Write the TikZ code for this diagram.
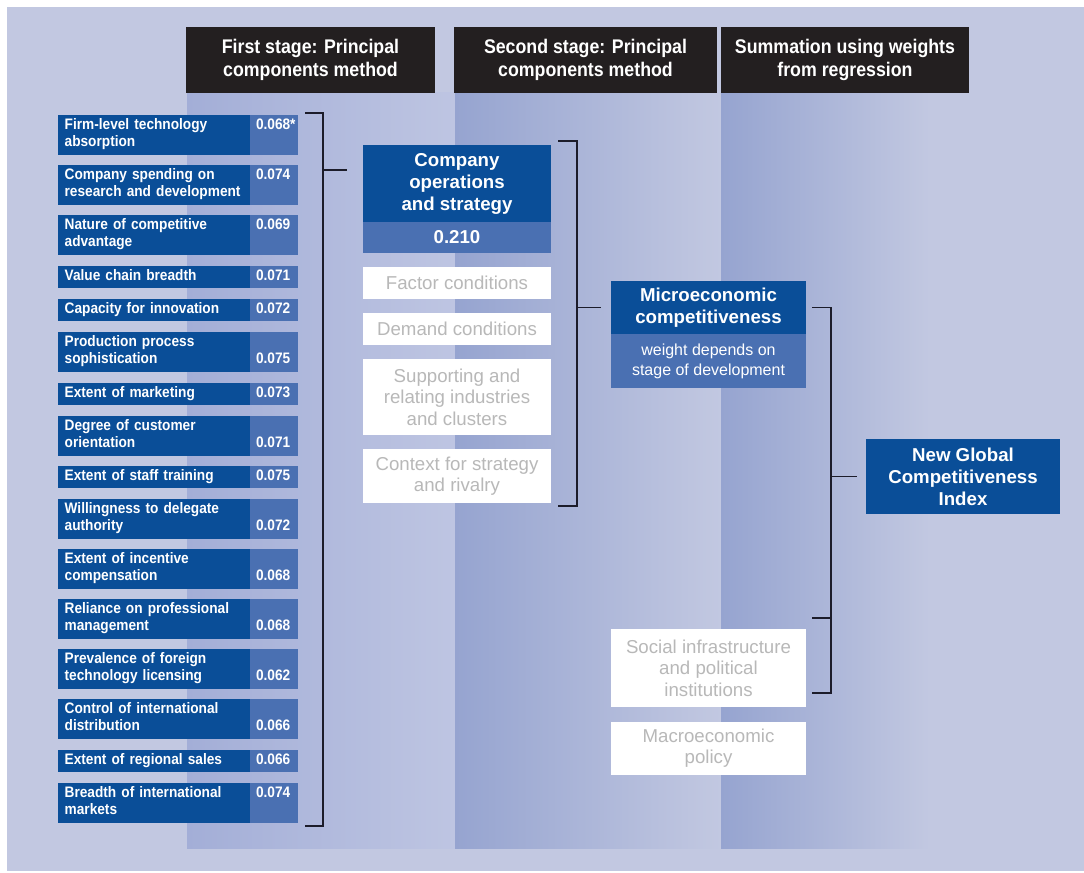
\documentclass[tikz,border=0pt]{standalone}
\usepackage{fontspec}
\setmainfont{Liberation Sans}
\newfontfamily\narrowfont[FakeStretch=0.9]{Liberation Sans}
\usetikzlibrary{calc}

\definecolor{bgcol}{HTML}{C2C8E1}
\definecolor{bandA}{HTML}{A3AED7}
\definecolor{bandB}{HTML}{96A4D0}
\definecolor{bandEnd}{HTML}{BEC5E2}
\definecolor{hdrcol}{HTML}{231F20}
\definecolor{dblue}{HTML}{0A4E98}
\definecolor{lblue}{HTML}{4A70B2}
\definecolor{greytext}{HTML}{B8B8B8}
\definecolor{linecol}{HTML}{1C1C2A}

\tikzset{
  hdr/.style={fill=hdrcol, text=white, anchor=north west, inner sep=0pt, outer sep=0pt,
    minimum height=49.5pt, align=center,
    font=\narrowfont\bfseries\fontsize{14.8}{17.5}\selectfont},
  lblbox/.style={fill=dblue, text=white, anchor=north west, inner xsep=5pt, inner ysep=0pt,
    outer sep=0pt, minimum width=144pt, text width=134pt, align=left,
    font=\narrowfont\bfseries\fontsize{11.4}{12.75}\selectfont},
  valbox/.style={fill=lblue, text=white, anchor=north west, inner xsep=4.5pt, inner ysep=0pt,
    outer sep=0pt, minimum width=36pt, text width=27pt, align=left,
    font=\narrowfont\bfseries\fontsize{11.4}{12.75}\selectfont},
  dbox/.style={fill=dblue, text=white, anchor=north west, inner sep=0pt, outer sep=0pt,
    align=center, font=\bfseries\fontsize{14}{16.5}\selectfont},
  lbox/.style={fill=lblue, text=white, anchor=north west, inner sep=0pt, outer sep=0pt,
    align=center, font=\fontsize{12}{15}\selectfont},
  wbox/.style={fill=white, text=greytext, anchor=north west, inner sep=0pt, outer sep=0pt,
    align=center, font=\fontsize{14}{16}\selectfont},
  brk/.style={draw=linecol, line width=0.9pt},
}

% one indicator row: name, top y, height, label, value
\newcommand\factorrow[5]{%
  \node[lblbox, minimum height=#3] (#1l) at (58,#2) {\strut#4\strut};
  \node[valbox, minimum height=#3] (#1v) at (250,#2) {\strut#5\strut};}

\begin{document}
\begin{tikzpicture}[x=0.75pt,y=-0.75pt]
\useasboundingbox (0,0) rectangle (1084,873);

% backdrop and column bands
\fill[bgcol] (7,7) rectangle (1084,871);
\shade[left color=bandA, right color=bandEnd] (187,93) rectangle (455,848);
\shade[left color=bandB, right color=bgcol] (455,93) rectangle (721,848);
\shade[left color=bandB, right color=bgcol] (721,93) rectangle (930,848);

% column headers
\node[hdr, minimum width=186.75pt] (h1) at (186,27) {First stage: Principal\\components method};
\node[hdr, minimum width=197.25pt] (h2) at (454,27) {Second stage: Principal\\components method};
\node[hdr, minimum width=186pt] (h3) at (721,27) {Summation using weights\\from regression};

% first stage indicators
\factorrow{r1}{115}{30pt}{Firm-level technology\\absorption}{0.068*\\}
\factorrow{r2}{165}{30pt}{Company spending on\\research and development}{0.074\\}
\factorrow{r3}{215}{30pt}{Nature of competitive\\advantage}{0.069\\}
\factorrow{r4}{266}{16.5pt}{Value chain breadth}{0.071}
\factorrow{r5}{299}{16.5pt}{Capacity for innovation}{0.072}
\factorrow{r6}{332}{30pt}{Production process\\sophistication}{\\0.075}
\factorrow{r7}{383}{16.5pt}{Extent of marketing}{0.073}
\factorrow{r8}{416}{30pt}{Degree of customer\\orientation}{\\0.071}
\factorrow{r9}{466}{16.5pt}{Extent of staff training}{0.075}
\factorrow{r10}{499}{30pt}{Willingness to delegate\\authority}{\\0.072}
\factorrow{r11}{549}{30pt}{Extent of incentive\\compensation}{\\0.068}
\factorrow{r12}{599}{30pt}{Reliance on professional\\management}{\\0.068}
\factorrow{r13}{649}{30pt}{Prevalence of foreign\\technology licensing}{\\0.062}
\factorrow{r14}{699}{30pt}{Control of international\\distribution}{\\0.066}
\factorrow{r15}{750}{16.5pt}{Extent of regional sales}{0.066}
\factorrow{r16}{783}{30pt}{Breadth of international\\markets}{0.074\\}

% second stage pillars
\node[dbox, minimum width=141pt, minimum height=57.75pt] (comp) at (363,145) {Company\\operations\\and strategy};
\node[lbox, minimum width=141pt, minimum height=23.25pt, font=\bfseries\fontsize{14}{16}\selectfont] (compw) at (363,222) {0.210};
\node[wbox, minimum width=141pt, minimum height=24pt] (factor) at (363,267) {Factor conditions};
\node[wbox, minimum width=141pt, minimum height=24pt] (demand) at (363,313) {Demand conditions};
\node[wbox, minimum width=141pt, minimum height=57pt] (support) at (363,359) {Supporting and\\relating industries\\and clusters};
\node[wbox, minimum width=141pt, minimum height=40.5pt] (context) at (363,449) {Context for strategy\\and rivalry};

% third column blocks
\node[dbox, minimum width=146.25pt, minimum height=39.75pt] (micro) at (611,281) {Microeconomic\\competitiveness};
\node[lbox, minimum width=146.25pt, minimum height=40.5pt] (microw) at (611,334) {weight depends on\\stage of development};
\node[wbox, minimum width=146.25pt, minimum height=58.5pt] (social) at (611,629) {Social infrastructure\\and political\\institutions};
\node[wbox, minimum width=146.25pt, minimum height=39.75pt] (macro) at (611,722) {Macroeconomic\\policy};

% final index
\node[dbox, minimum width=145.5pt, minimum height=56.25pt] (ngc) at (866,439) {New Global\\Competitiveness\\Index};

% bracket gathering the indicators
\coordinate (b1t) at (305,113);
\coordinate (b1tc) at (323,113);
\coordinate (b1bc) at (323,826);
\coordinate (b1b) at (305,826);
\coordinate (b1m) at (323,170);
\coordinate (b1e) at (347,170);
\draw[brk] (b1t) -- (b1tc) -- (b1bc) -- (b1b);
\draw[brk] (b1m) -- (b1e);

% bracket gathering the pillars
\coordinate (b2t) at (558,141);
\coordinate (b2tc) at (577,141);
\coordinate (b2bc) at (577,506);
\coordinate (b2b) at (558,506);
\coordinate (b2m) at (577,307.5);
\draw[brk] (b2t) -- (b2tc) -- (b2bc) -- (b2b);
\draw[brk] (b2m) -- ([xshift=-7.5pt]micro.west);

% bracket gathering the sub-indexes
\coordinate (b3t) at (812,307.5);
\coordinate (b3tc) at (831,307.5);
\coordinate (b3bc) at (831,693);
\coordinate (b3b) at (812,693);
\coordinate (b3k) at (812,618);
\coordinate (b3kc) at (831,618);
\coordinate (b3m) at (831,476.5);
\draw[brk] (b3t) -- (b3tc) -- (b3bc) -- (b3b);
\draw[brk] (b3k) -- (b3kc);
\draw[brk] (b3m) -- ([xshift=-6.75pt]ngc.west);
\end{tikzpicture}
\end{document}
